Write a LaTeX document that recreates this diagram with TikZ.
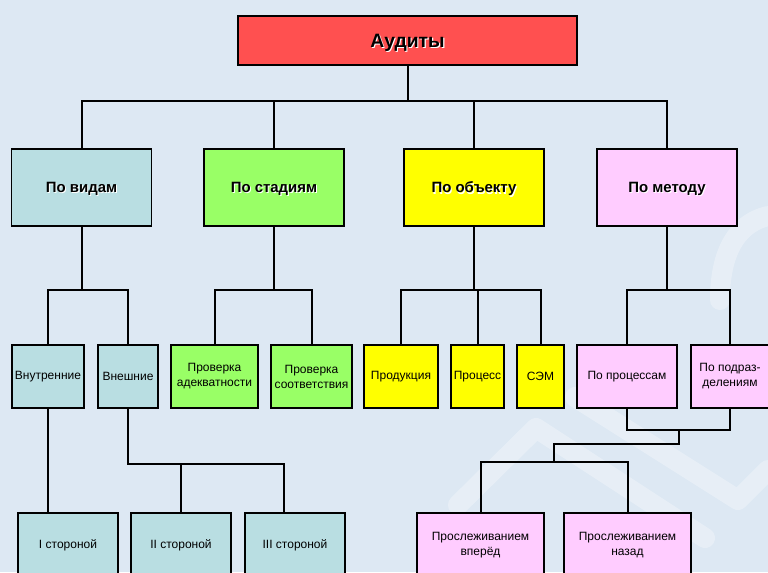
\documentclass[tikz,border=0pt]{standalone}
\usepackage{fontspec}
\setmainfont{Liberation Sans}
\usetikzlibrary{positioning,calc}

\definecolor{bgblue}{RGB}{221,232,243}
\definecolor{audred}{RGB}{255,80,80}
\definecolor{vidblue}{RGB}{185,222,226}
\definecolor{stadgreen}{RGB}{153,255,102}
\definecolor{objyellow}{RGB}{255,255,0}
\definecolor{metpink}{RGB}{255,204,255}

% light shadow behind the bold titles
\newcommand{\shadowed}[1]{\makebox[0pt][l]{\hspace{0.8pt}\raisebox{-0.8pt}{\textcolor{white}{#1}}}#1}

\tikzset{
  box/.style={draw, line width=0.8pt, align=center, inner sep=1pt},
  cat/.style={box, minimum width=140*0.75pt, minimum height=77*0.75pt, text depth=0pt,
    font=\bfseries\fontsize{11.2}{13}\selectfont},
  sub/.style={box, minimum height=63*0.75pt, font=\fontsize{9}{11.2}\selectfont},
  leaf/.style={box, minimum height=64*0.75pt, font=\fontsize{9}{11.2}\selectfont},
  link/.style={line width=1.5pt},
  wm/.style={white, opacity=0.3, line width=15pt, line cap=round, line join=round}
}

\begin{document}
\begin{tikzpicture}[x=0.75pt, y=-0.75pt]

% =========================
% BACKGROUND
% =========================
\useasboundingbox (0,0) rectangle (768,572);
\clip (0,0) rectangle (768,572);
\fill[bgblue] (0,0) rectangle (768,572);

% watermark
\draw[wm] (458,505) -- (536,428) -- (705,538);
\draw[wm] (575,397) -- (738,500) -- (768,470);
\draw[wm] (720,300) .. controls (720,245) and (742,222) .. (768,216);

% =========================
% TOP
% =========================
\node[box, fill=audred, minimum width=339*0.75pt, minimum height=49*0.75pt, text depth=0pt,
  font=\bfseries\fontsize{14.5}{16}\selectfont] (audit) at (407.5,40.5) {\shadowed{Аудиты}};

% =========================
% CATEGORIES
% =========================
\node[cat, fill=vidblue] (vid) at (81.5,187.5) {\shadowed{По видам}};
\node[cat, fill=stadgreen] (stad) at (274,187.5) {\shadowed{По стадиям}};
\node[cat, fill=objyellow] (obj) at (474,187.5) {\shadowed{По объекту}};
\node[cat, fill=metpink] (met) at (667,187.5) {\shadowed{По методу}};

\foreach \n in {vid,stad,obj,met}
  \draw[link] (audit.south) -- +(0,35) -| (\n.north);

% =========================
% SUBTYPES
% =========================
\node[sub, fill=vidblue, minimum width=72*0.75pt] (vnut) at (48,376.5) {Внутренние};
\node[sub, fill=vidblue, minimum width=60*0.75pt] (vnesh) at (128,376.5) {Внешние};
\node[sub, fill=stadgreen, minimum width=87*0.75pt] (adek) at (214.5,376.5) {Проверка\\адекватности};
\node[sub, fill=stadgreen, minimum width=81*0.75pt] (soot) at (311.5,376.5) {Проверка\\соответствия};
\node[sub, fill=objyellow, minimum width=74*0.75pt] (prod) at (401,376.5) {Продукция};
\node[sub, fill=objyellow, minimum width=53*0.75pt] (proc) at (477.5,376.5) {Процесс};
\node[sub, fill=objyellow, minimum width=47*0.75pt] (sem) at (540.5,376.5) {СЭМ};
\node[sub, fill=metpink, minimum width=100*0.75pt] (poproc) at (627,376.5) {По процессам};
\node[sub, fill=metpink, minimum width=78*0.75pt] (popodr) at (730,376.5) {По подраз-\\делениям};

\foreach \n in {vnut,vnesh}
  \draw[link] (vid.south) -- +(0,63) -| (\n.north);
\foreach \n in {adek,soot}
  \draw[link] (stad.south) -- +(0,63) -| (\n.north);
\foreach \n in {prod,proc,sem}
  \draw[link] (obj.south) -- +(0,63) -| (\n.north);
\foreach \n in {poproc,popodr}
  \draw[link] (met.south) -- +(0,63) -| (\n.north);

% =========================
% LEAVES
% =========================
\node[leaf, fill=vidblue, minimum width=100*0.75pt] (st1) at (68,545) {I стороной};
\node[leaf, fill=vidblue, minimum width=100*0.75pt] (st2) at (181,545) {II стороной};
\node[leaf, fill=vidblue, minimum width=100*0.75pt] (st3) at (295,545) {III стороной};
\node[leaf, fill=metpink, minimum width=127*0.75pt] (vper) at (480.5,545) {Прослеживанием\\вперёд};
\node[leaf, fill=metpink, minimum width=127*0.75pt] (nazad) at (627.5,545) {Прослеживанием\\назад};

\draw[link] (vnut.south) -- (vnut.south |- st1.north);
\draw[link] (vnesh.south) -- +(0,55) -| (st2.north);
\draw[link] (vnesh.south) -- +(0,55) -| ([xshift=-8pt]st3.north);

% method joins
\draw[link] (poproc.south) -- +(0,21) -| (popodr.south);
\coordinate (mj) at ($(poproc.south)!0.5!(popodr.south)+(0,21)$);
\coordinate (sj) at ($(vper.north)!0.5!(nazad.north)+(0,-50)$);
\draw[link] (mj) -- +(0,14) -| (sj);
\foreach \n in {vper,nazad}
  \draw[link] (sj) -| (\n.north);

\end{tikzpicture}
\end{document}
